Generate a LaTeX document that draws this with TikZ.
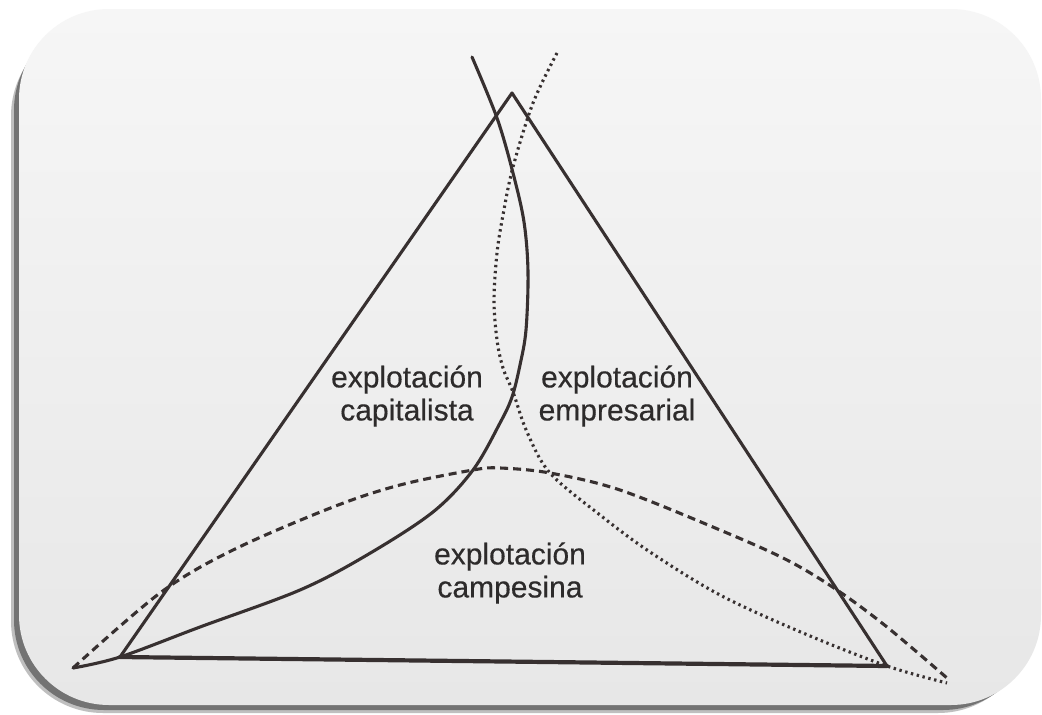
\documentclass[tikz,border=0pt]{standalone}
\usepackage{fontspec}
\setmainfont{Liberation Sans}
\newfontfamily\labfont[FakeBold=0.4]{Liberation Sans}
\definecolor{ink}{RGB}{55,48,48}
\definecolor{txt}{RGB}{45,43,43}
\definecolor{pagetop}{RGB}{246,246,246}
\definecolor{pagebot}{RGB}{231,231,231}
\begin{document}
\begin{tikzpicture}[x=1pt,y=-1pt,
  side/.style={draw=ink,line width=3.1pt,line join=round,line cap=round},
  basesegment/.style={draw=ink,line width=4.2pt,line cap=round},
  dasharc/.style={draw=ink,line width=3.1pt,dash pattern=on 8pt off 5pt},
  dotcurve/.style={draw=ink,line width=3.1pt,dash pattern=on 2.4pt off 3.6pt},
  lab/.style={text=txt,align=center,font=\labfont\fontsize{30}{33}\selectfont,inner sep=0pt}]
\useasboundingbox (0,0) rectangle (1042,715);
\fill[white] (0,0) rectangle (1042,715);
% frame shadow (left and bottom) and page
\fill[black!25,rounded corners=92pt] (11,24) rectangle (1030,713);
\fill[black!55,rounded corners=90pt] (14,20) rectangle (1033,710);
\shade[top color=pagetop,bottom color=pagebot,rounded corners=90pt] (19,9) rectangle (1041,705);
% named points
\coordinate (L) at (120,657);
\coordinate (R) at (887,666);
\coordinate (T) at (512,93);
\coordinate (Stop) at (472,57);
\coordinate (Dtop) at (557,53);
\coordinate (Aleft) at (73,668);
\coordinate (Aright) at (947,678);
\coordinate (Dend) at (947,683);
% triangle
\draw[side] (L) -- (T) -- (R);
\draw[basesegment] (L) -- (R);
% solid curve (capitalista)
\draw[side] plot[smooth,tension=0.55] coordinates {(Stop) (497,118) (513,173) (524,222) (528,272) (526,330) (520,365) (512,397) (500,423) (473,470) (433,512) (367,555) (300,590) (200,627) (L) (Aleft)};
% dotted curve (empresarial)
\draw[dotcurve] plot[smooth,tension=0.55] coordinates {(Dtop) (533,103) (513,167) (503,215) (497,253) (494,300) (497,340) (503,368) (513,392) (527,432) (550,473) (600,515) (650,552) (720,595) (803,633) (R) (Dend)};
% dashed arc (campesina)
\draw[dasharc] plot[smooth,tension=0.55] coordinates {(Aleft) (160,593) (233,550) (333,507) (400,485) (473,470) (500,468) (550,473) (620,490) (720,530) (787,560) (837,590) (887,627) (Aright)};
% labels
\node[lab] (cap) at (407,396) {explotación\\capitalista};
\node[lab] (emp) at (617,396) {explotación\\empresarial};
\node[lab] (cam) at (510,573) {explotación\\campesina};
\end{tikzpicture}
\end{document}
